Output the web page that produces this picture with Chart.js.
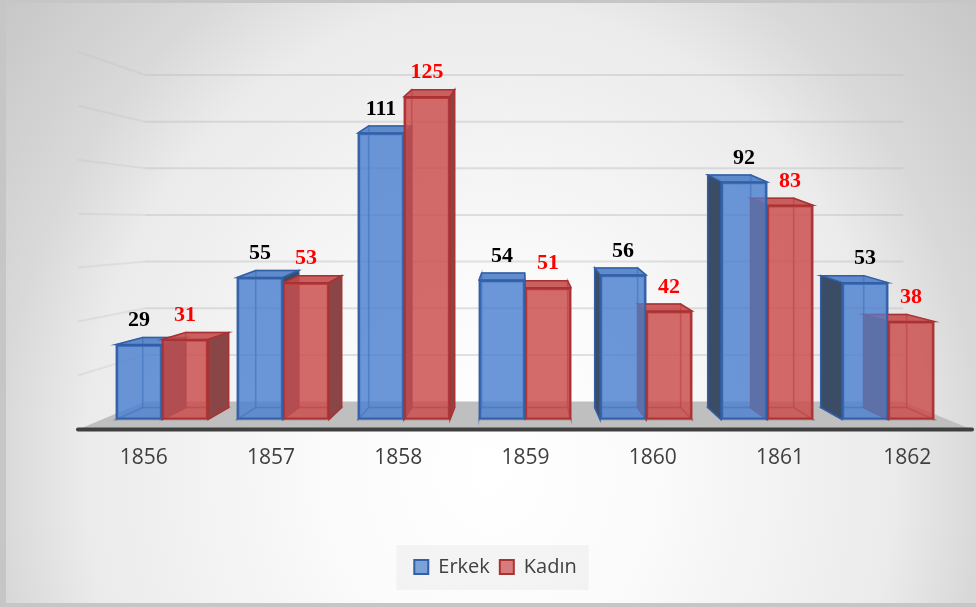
<!DOCTYPE html>
<html>
<head>
<meta charset="utf-8">
<script src="https://cdn.jsdelivr.net/npm/chart.js@4.4.1/dist/chart.umd.min.js"></script>
<style>
  html, body { margin: 0; padding: 0; background: #c6c6c6; }
  #bg { position: absolute; left: 6px; top: 3px; width: 970px; height: 600px;
        background: radial-gradient(520px 600px at 484px 467px, #ffffff 0%, #fbfbfb 30%, #ebebeb 78%, #d9d9d9 94%, #c8c8c8 120%); }
  #wrap { position: absolute; left: 0; top: 0; width: 976px; height: 607px; }
</style>
</head>
<body>
<div id="bg"></div>
<div id="wrap"><canvas id="chart" width="976" height="607"></canvas></div>
<script>
// data
var years = [1856, 1857, 1858, 1859, 1860, 1861, 1862];
var yearLabels = ['1856', '1857', '1858', '1859', '1860', '1861', '1862'];
var erkek = [29, 55, 111, 54, 56, 92, 53];
var kadin = [31, 53, 125, 51, 42, 83, 38];
var gridValues = [20, 40, 60, 80, 100, 120, 140];

// renk seti (front / back / top / dark side)
var palette = [
    { front: 'rgba(78,129,206,0.72)', border: 'rgba(50,95,165,1)', back: 'rgba(78,129,206,0.40)',
      edge: 'rgba(50,95,165,0.5)', top: 'rgba(74,122,198,0.8)', dark: '#3a4c66', label: '#000000' },
    { front: 'rgba(202,78,78,0.72)', border: 'rgba(170,50,50,1)', back: 'rgba(202,78,78,0.40)',
      edge: 'rgba(170,50,50,0.5)', top: 'rgba(195,74,74,0.8)', dark: '#8a4646', label: '#ff0000' }
];

function poly(ctx, pts, fill, stroke) {
    ctx.beginPath();
    ctx.moveTo(pts[0][0], pts[0][1]);
    for (var i = 1; i < pts.length; i++) ctx.lineTo(pts[i][0], pts[i][1]);
    ctx.closePath();
    if (fill) { ctx.fillStyle = fill; ctx.fill(); }
    if (stroke) { ctx.strokeStyle = stroke; ctx.lineWidth = 1.5; ctx.stroke(); }
}

var legendBox = {
    id: 'legendBox',
    beforeDraw: function(chart) {
        var hb = chart.legend && chart.legend.legendHitBoxes;
        if (!hb || !hb.length) return;
        var l = hb[0].left, r = hb[hb.length - 1].left + hb[hb.length - 1].width;
        var cy = hb[0].top + hb[0].height / 2;
        chart.ctx.save();
        chart.ctx.fillStyle = 'rgba(225,225,225,0.35)';
        chart.ctx.fillRect(l - 18, cy - 22, (r - l) + 30, 45);
        chart.ctx.restore();
    }
};

var bar3d = {
    id: 'bar3d',
    beforeDatasetsDraw: function(chart) {
        var ctx = chart.ctx, area = chart.chartArea;
        var y = chart.scales.y, y2 = chart.scales.y2;
        var vx = (area.left + area.right) / 2 - 6;
        var wallBottom = y2.getPixelForValue(0);
        var floorFront = area.bottom + 10;
        var fl = area.left - 2, fr = area.right + 1;
        var bl = vx + 0.848 * (fl - vx), br = vx + 0.848 * (fr - vx);
        ctx.save();
        // duvar cizgileri
        ctx.lineWidth = 2;
        gridValues.forEach(function(v) {
            var yb = y2.getPixelForValue(v);
            var yf = floorFront - (area.bottom - y.getPixelForValue(v)) * 1.045;
            ctx.strokeStyle = 'rgba(190,190,190,0.28)';
            ctx.beginPath();
            ctx.moveTo(fl, yf);
            ctx.lineTo(bl, yb);
            ctx.stroke();
            ctx.strokeStyle = 'rgba(190,190,190,0.45)';
            ctx.beginPath();
            ctx.moveTo(bl, yb);
            ctx.lineTo(br, yb);
            ctx.stroke();
        });
        // zemin
        poly(ctx, [[fl, floorFront], [fr, floorFront], [br, wallBottom], [bl, wallBottom]], '#bfbfbf', null);
        ctx.beginPath();
        ctx.lineCap = 'round';
        ctx.lineWidth = 4;
        ctx.strokeStyle = '#3f3f3f';
        ctx.moveTo(fl, floorFront);
        ctx.lineTo(fr, floorFront);
        ctx.stroke();

        // 3d kutular
        var s = 0.934;
        chart.data.datasets.forEach(function(ds, di) {
            var c = palette[di];
            chart.getDatasetMeta(di).data.forEach(function(el) {
                var L = el.x - el.width / 2, R = el.x + el.width / 2, T = el.y, B = el.base;
                var Lb = vx + s * (L - vx), Rb = vx + s * (R - vx), Tb = T - 7, Bb = B - 12;
                poly(ctx, [[Lb, Tb], [Rb, Tb], [Rb, Bb], [Lb, Bb]], c.back, c.edge);
                poly(ctx, [[L, B], [R, B], [Rb, Bb], [Lb, Bb]], c.back, c.edge);
                var left = [[L, T], [Lb, Tb], [Lb, Bb], [L, B]];
                var right = [[R, T], [Rb, Tb], [Rb, Bb], [R, B]];
                if (Lb >= L) poly(ctx, left, c.back, c.edge);
                if (Rb <= R) poly(ctx, right, c.back, c.edge);
                poly(ctx, [[L, T], [R, T], [Rb, Tb], [Lb, Tb]], c.top, c.border);
                if (Lb < L) poly(ctx, left, c.dark, c.border);
                if (Rb > R) poly(ctx, right, c.dark, c.border);
            });
        });
        ctx.restore();
    },
    afterDatasetsDraw: function(chart) {
        var ctx = chart.ctx;
        ctx.save();
        ctx.font = 'bold 22px "Liberation Serif"';
        ctx.textAlign = 'center';
        ctx.textBaseline = 'middle';
        chart.data.datasets.forEach(function(ds, di) {
            ctx.fillStyle = palette[di].label;
            chart.getDatasetMeta(di).data.forEach(function(el, i) {
                ctx.fillText(String(ds.data[i].y), el.x, el.y - 24);
            });
        });
        ctx.restore();
    }
};

var ctx = document.getElementById('chart').getContext('2d');
var chart = new Chart(ctx, {
    type: 'bar',
    data: {
        datasets: [{
            label: 'Erkek',
            data: years.map(function(yr, i) { return { x: yr, y: erkek[i] }; }),
            backgroundColor: palette[0].front,
            borderColor: palette[0].border,
            borderWidth: 2,
            borderSkipped: false,
            barThickness: 46
        }, {
            label: 'Kadın',
            data: years.map(function(yr, i) { return { x: yr, y: kadin[i] }; }),
            backgroundColor: palette[1].front,
            borderColor: palette[1].border,
            borderWidth: 2,
            borderSkipped: false,
            barThickness: 46
        }]
    },
    options: {
        responsive: false,
        animation: false,
        devicePixelRatio: 1,
        layout: { padding: { left: 20, right: 5, top: 58, bottom: 20 } },
        plugins: {
            legend: {
                position: 'bottom',
                labels: { boxWidth: 14, boxHeight: 14, padding: 10, color: '#404040',
                          font: { family: 'Open Sans', size: 20 } }
            },
            tooltip: { enabled: false }
        },
        scales: {
            x: { type: 'linear', display: false, offset: false, min: 1855.322, max: 1862.686 },
            xl: {
                type: 'category', labels: yearLabels, position: 'bottom', offset: true,
                grid: { display: false, drawTicks: false }, border: { display: false },
                ticks: { padding: 26, color: '#3f3f3f', font: { family: 'Open Sans', size: 21 } },
                afterFit: function(scale) { scale.height = 127.5; }
            },
            y: {
                display: true, position: 'left', min: 0, max: 140,
                grid: { display: false, drawTicks: false }, border: { display: false },
                ticks: { display: false },
                afterFit: function(scale) { scale.width = 60; }
            },
            y2: { display: false, position: 'left', min: -7.7, max: 147.3 }
        }
    },
    plugins: [legendBox, bar3d]
});
</script>
</body>
</html>
